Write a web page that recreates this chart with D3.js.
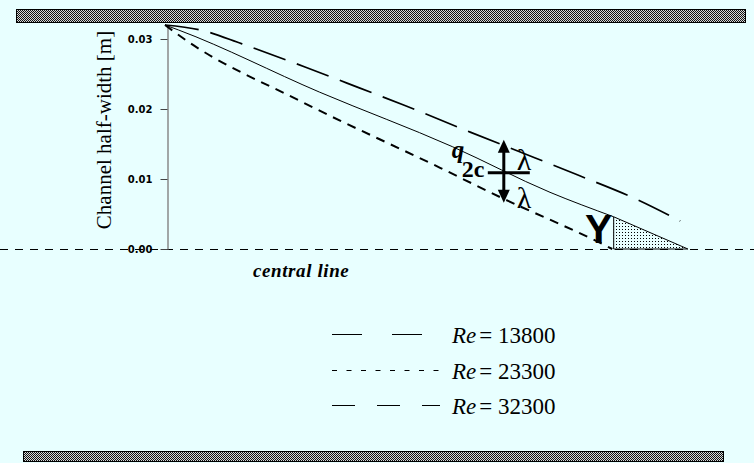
<!DOCTYPE html>
<html>
<head>
<meta charset="utf-8">
<script src="https://cdn.jsdelivr.net/npm/d3@7"></script>
<style>
    body { margin: 0; background: #e8ffff; }
    svg { display: block; }
</style>
</head>
<body>
<div id="channel_plot"></div>
<script>
// half-width profiles: [distance along channel (m), half-width (m)]
let re13800 = [[0, 0.032], [0.005, 0.0313], [0.011, 0.0293], [0.020, 0.0260], [0.026, 0.0237],
    [0.034, 0.0206], [0.0436, 0.0167], [0.0529, 0.0130], [0.0589, 0.0106], [0.0676, 0.0070], [0.0736, 0.0040]]
let re32300 = [[0, 0.032], [0.0019, 0.0313], [0.0221, 0.0224], [0.0411, 0.0146], [0.0550, 0.0081], [0.0641, 0.0046]]
let re23300 = [[0, 0.032], [0.0026, 0.0301], [0.0196, 0.0210], [0.0393, 0.0116], [0.0479, 0.0074], [0.0621, 0.0009], [0.0639, 0]]
// recirculation wedge Y
let wedge = [[0.0641, 0.0046], [0.0641, 0], [0.0747, 0]]
let yTicks = [0, 0.01, 0.02, 0.03]
let legendLabels = ["13800", "23300", "32300"]

;(function () {
    let w = 754
    let h = 463
    let svg = d3.select("#channel_plot")
        .append("svg")
        .attr("width", w)
        .attr("height", h)

    let serif = "'Liberation Serif', 'Times New Roman', serif"

    let x = d3.scaleLinear().domain([0, 0.08]).range([165, 725])
    let y = d3.scaleLinear().domain([0, 0.032]).range([249, 25])

    // patterns for the walls and the stippled wedge
    let defs = svg.append("defs")
    let wall = defs.append("pattern")
        .attr("id", "wall")
        .attr("width", 2).attr("height", 2)
        .attr("patternUnits", "userSpaceOnUse")
    wall.append("rect").attr("width", 2).attr("height", 2).attr("fill", "#d8d8d8")
    wall.append("rect").attr("width", 1).attr("height", 1).attr("fill", "#111")
    wall.append("rect").attr("x", 1).attr("y", 1).attr("width", 1).attr("height", 1).attr("fill", "#111")

    let dots = defs.append("pattern")
        .attr("id", "dots")
        .attr("width", 3).attr("height", 3)
        .attr("patternUnits", "userSpaceOnUse")
    dots.append("rect").attr("x", 1).attr("y", 1).attr("width", 1).attr("height", 1).attr("fill", "#000")

    // channel walls
    svg.append("rect")
        .attr("x", 16.5).attr("y", 9.5).attr("width", 729).attr("height", 13)
        .attr("fill", "url(#wall)").attr("stroke", "#000")
    svg.append("rect")
        .attr("x", 23.5).attr("y", 451.5).attr("width", 700).attr("height", 10)
        .attr("fill", "url(#wall)").attr("stroke", "#000")

    // central line
    svg.append("line")
        .attr("x1", 0).attr("x2", w)
        .attr("y1", y(0) + 0.5).attr("y2", y(0) + 0.5)
        .attr("stroke", "#000")
        .attr("stroke-dasharray", "8,7")

    // y axis
    let yAxis = d3.axisLeft(y)
        .tickValues(yTicks)
        .tickFormat(d3.format(".2f"))
        .tickSize(7)
        .tickPadding(8)
        .tickSizeOuter(0)
    let gy = svg.append("g")
        .attr("transform", "translate(167.5, 0)")
        .call(yAxis)
    gy.select(".domain").attr("stroke", "#8a8a8a").attr("stroke-width", 1.5)
    gy.selectAll(".tick line").attr("stroke", "#444")
    gy.selectAll(".tick text")
        .attr("fill", "#000")
        .style("font-family", "'DejaVu Sans', sans-serif")
        .style("font-weight", "bold")
        .style("font-size", "10px")

    svg.append("text")
        .attr("transform", "rotate(-90)")
        .attr("x", -130)
        .attr("y", 111)
        .style("text-anchor", "middle")
        .style("font-family", serif)
        .style("font-size", "21px")
        .text("Channel half-width [m]")

    svg.append("text")
        .attr("x", 253).attr("y", 277)
        .style("font-family", serif)
        .style("font-style", "italic")
        .style("font-weight", "bold")
        .style("font-size", "19px")
        .style("letter-spacing", "0.6px")
        .text("central line")

    let line = d3.line()
        .x(d => x(d[0]))
        .y(d => y(d[1]))
        .curve(d3.curveMonotoneX)

    svg.append("path")
        .datum(re13800)
        .attr("d", line)
        .attr("fill", "none")
        .attr("stroke", "#000")
        .attr("stroke-width", 1.7)
        .attr("stroke-dasharray", "34,12")

    svg.append("path")
        .datum(re32300)
        .attr("d", line)
        .attr("fill", "none")
        .attr("stroke", "#000")
        .attr("stroke-width", 1)

    svg.append("path")
        .datum(re23300)
        .attr("d", line)
        .attr("fill", "none")
        .attr("stroke", "#000")
        .attr("stroke-width", 2)
        .attr("stroke-dasharray", "9,7")

    // wedge Y
    svg.append("path")
        .datum(wedge)
        .attr("d", d3.line().x(d => x(d[0])).y(d => y(d[1])).curve(d3.curveLinearClosed))
        .attr("fill", "url(#dots)")
        .attr("stroke", "#000")
    svg.append("text")
        .attr("x", 585).attr("y", 243)
        .style("font-family", "'Liberation Sans', Arial, sans-serif")
        .style("font-weight", "bold")
        .style("font-size", "41px")
        .text("Y")

    // q2c cross with lambda arrows
    let cx = x(0.0484)
    let cy = y(0.0109)
    let ann = svg.append("g")
    ann.append("line")
        .attr("x1", cx - 16).attr("x2", cx + 26)
        .attr("y1", cy).attr("y2", cy)
        .attr("stroke", "#000").attr("stroke-width", 3)
    ann.append("line")
        .attr("x1", cx).attr("x2", cx)
        .attr("y1", cy - 24).attr("y2", cy + 22)
        .attr("stroke", "#000").attr("stroke-width", 3)
    ann.append("path")
        .attr("d", `M${cx},${cy - 33}L${cx - 6},${cy - 20}L${cx + 6},${cy - 20}Z`)
        .attr("fill", "#000")
    ann.append("path")
        .attr("d", `M${cx},${cy + 30}L${cx - 6},${cy + 17}L${cx + 6},${cy + 17}Z`)
        .attr("fill", "#000")
    ann.append("text")
        .attr("x", cx - 52).attr("y", cy - 15)
        .style("font-family", serif).style("font-style", "italic").style("font-weight", "bold")
        .style("font-size", "25px")
        .text("q")
    ann.append("text")
        .attr("x", cx - 42).attr("y", cy + 4)
        .style("font-family", serif).style("font-weight", "bold")
        .style("font-size", "24px")
        .text("2c")
    ann.append("text")
        .attr("x", cx + 13).attr("y", cy - 3)
        .style("font-family", serif)
        .style("font-size", "30px")
        .text("λ")
    ann.append("text")
        .attr("x", cx + 13).attr("y", cy + 35)
        .style("font-family", serif)
        .style("font-size", "30px")
        .text("λ")

    // legend
    let legendDash = ["30,30", "5,9.5", "23,22"]
    let legendLen = [90, 108, 108]
    let legend = svg.append("g")
        .selectAll("g")
        .data(legendLabels)
        .join("g")
        .attr("transform", (d, i) => "translate(0," + [343, 379, 414][i] + ")")

    legend.append("line")
        .attr("x1", 332)
        .attr("x2", (d, i) => 332 + legendLen[i])
        .attr("y1", -8.5).attr("y2", -8.5)
        .attr("stroke", "#000")
        .attr("stroke-dasharray", (d, i) => legendDash[i])

    let lt = legend.append("text")
        .attr("x", 452)
        .style("font-family", serif)
        .style("font-size", "23px")
    lt.append("tspan").style("font-style", "italic").text("Re")
    lt.append("tspan").attr("dx", 3).text(d => "= " + d)
})()
</script>
</body>
</html>
